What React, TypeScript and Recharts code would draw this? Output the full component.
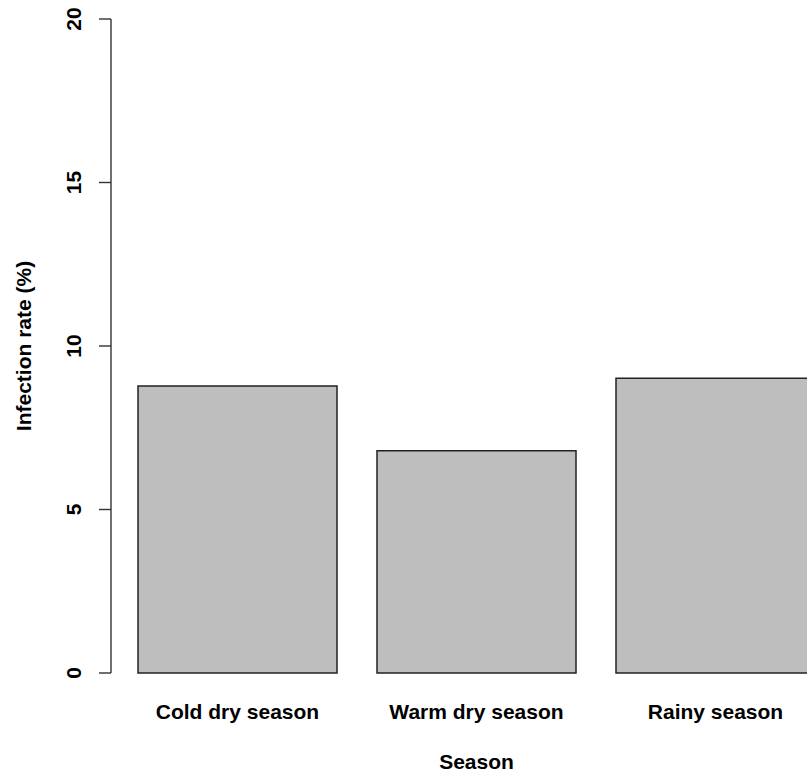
import { BarChart, Bar, XAxis, YAxis, Label } from 'recharts';

const seasons = ['Cold dry season', 'Warm dry season', 'Rainy season'];
const infectionRates = [8.78, 6.8, 9.01];
const yTicks = [0, 5, 10, 15, 20];

const data = seasons.map((season, i) => ({ season, rate: infectionRates[i] }));

const FONT = '"Liberation Sans", Arial, Helvetica, sans-serif';

// y tick labels are rotated like R's default las=0
function YTick(props: any) {
  const { x, y, payload } = props;
  const tx = x - 18;
  return (
    <text
      x={tx}
      y={y}
      transform={`rotate(-90, ${tx}, ${y})`}
      textAnchor="middle"
      fontFamily={FONT}
      fontWeight="bold"
      fontSize={21}
      fill="#000"
    >
      {payload.value}
    </text>
  );
}

function XTick(props: any) {
  const { x, y, payload } = props;
  return (
    <text
      x={x}
      y={y + 46}
      textAnchor="middle"
      fontFamily={FONT}
      fontWeight="bold"
      fontSize={21}
      fill="#000"
    >
      {payload.value}
    </text>
  );
}

export default function App() {
  return (
    <div style={{ position: 'fixed', left: 8, top: 8, width: 799, height: 768, overflow: 'hidden', background: '#fff' }}>
      <BarChart
        width={840}
        height={768}
        data={data}
        margin={{ top: 11, right: 6, bottom: 0, left: 0 }}
        barSize={199}
      >
        <XAxis
          dataKey="season"
          height={103}
          axisLine={false}
          tickLine={false}
          tickSize={0}
          tickMargin={0}
          padding={{ left: 7, right: 7 }}
          tick={<XTick />}
          interval={0}
        >
          <Label
            content={({ viewBox }: any) => (
              <text
                x={viewBox.x + viewBox.width / 2}
                y={viewBox.y + 96}
                textAnchor="middle"
                fontFamily={FONT}
                fontWeight="bold"
                fontSize={21}
                fill="#000"
              >
                Season
              </text>
            )}
          />
        </XAxis>
        <YAxis
          width={103}
          domain={[0, 20]}
          ticks={yTicks}
          interval={0}
          axisLine={{ stroke: '#333', strokeWidth: 1.4 }}
          tickLine={{ stroke: '#333', strokeWidth: 1.4 }}
          tickSize={12}
          tickMargin={0}
          tick={<YTick />}
        >
          <Label
            content={({ viewBox }: any) => {
              const cx = 23;
              const cy = viewBox.y + viewBox.height / 2;
              return (
                <text
                  x={cx}
                  y={cy}
                  transform={`rotate(-90, ${cx}, ${cy})`}
                  textAnchor="middle"
                  fontFamily={FONT}
                  fontWeight="bold"
                  fontSize={21}
                  fill="#000"
                >
                  Infection rate (%)
                </text>
              );
            }}
          />
        </YAxis>
        <Bar dataKey="rate" fill="#bebebe" stroke="#222" strokeWidth={1.5} isAnimationActive={false} />
      </BarChart>
    </div>
  );
}
